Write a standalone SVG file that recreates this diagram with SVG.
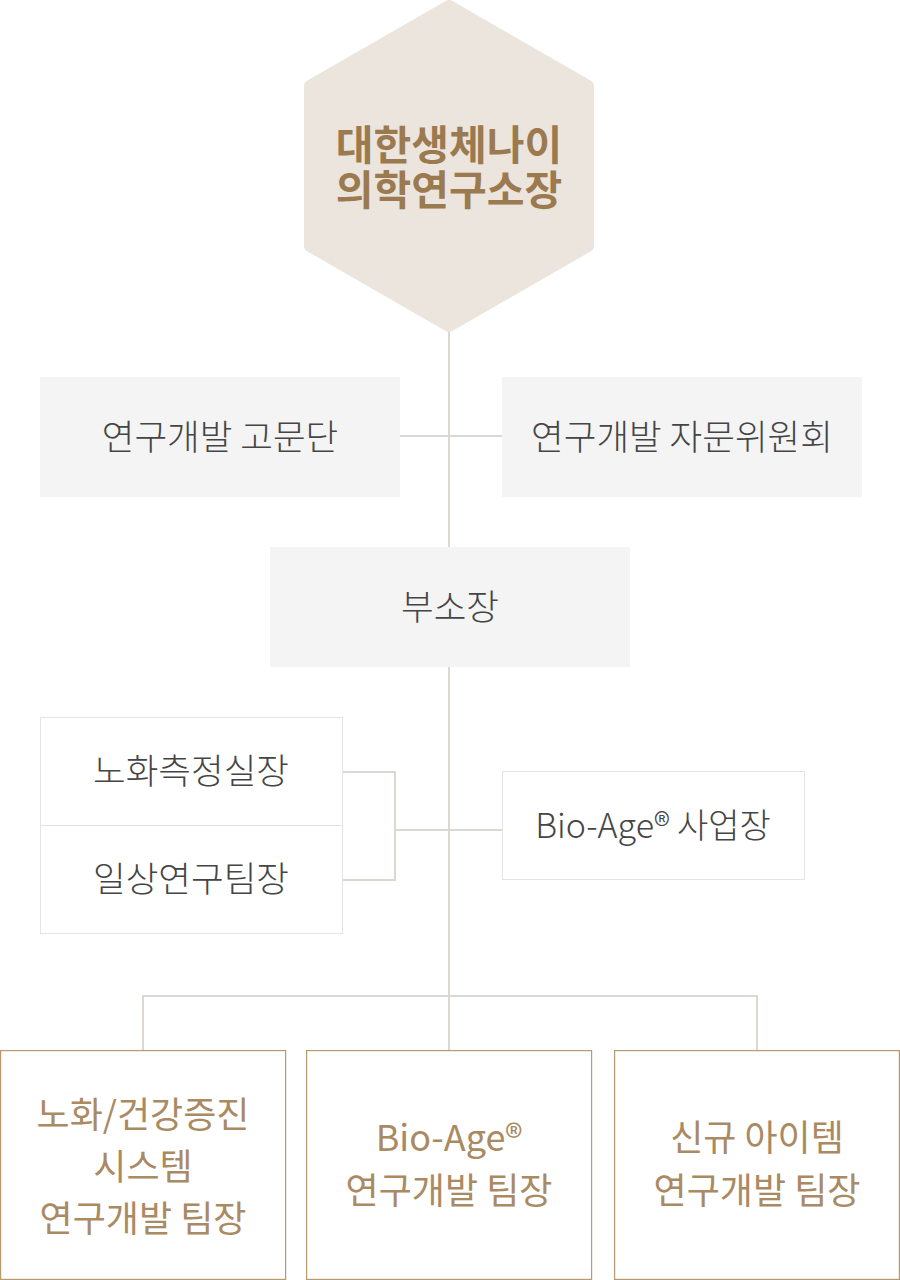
<svg xmlns="http://www.w3.org/2000/svg" width="900" height="1280" viewBox="0 0 900 1280">
<style>
.hex{fill:#ebe5de;stroke:#ebe5de;stroke-width:12;stroke-linejoin:round}
.gray{fill:#f4f4f4}
.white{fill:#ffffff;stroke:#e4e4e4;stroke-width:1}
.gold{fill:#ffffff;stroke:#b89a70;stroke-width:1.2}
.conn{fill:none;stroke:#ddd7d1;stroke-width:2}
.t{font-family:"Noto Sans CJK KR","Noto Sans",sans-serif;text-anchor:middle}
.ttl{font-size:41px;font-weight:700;fill:#9c7a50}
.dark{font-size:35.5px;font-weight:300;fill:#454545}
.br{font-size:36px;font-weight:400;fill:#a98a62}
</style>
<rect width="900" height="1280" fill="#ffffff"/>
<g id="connectors">
<line class="conn" x1="449" y1="320" x2="449" y2="1050"/>
<line class="conn" x1="400" y1="436" x2="502" y2="436"/>
<polyline class="conn" points="343,772 395,772 395,880 343,880"/>
<line class="conn" x1="395" y1="830" x2="502" y2="830"/>
<polyline class="conn" points="143,1050 143,996 757,996 757,1050"/>
</g>
<g id="director">
<polygon class="hex" points="449,6 588,86 588,246 449,326 310,246 310,86"/>
<text class="t ttl" x="449" y="160">대한생체나이</text>
<text class="t ttl" x="449" y="205">의학연구소장</text>
</g>
<g id="advisory">
<rect class="gray" x="40" y="377" width="360" height="120"/>
<text class="t dark" x="220" y="450">연구개발 고문단</text>
</g>
<g id="committee">
<rect class="gray" x="502" y="377" width="360" height="120"/>
<text class="t dark" x="682" y="450">연구개발 자문위원회</text>
</g>
<g id="deputy">
<rect class="gray" x="270" y="547" width="360" height="120"/>
<text class="t dark" x="450" y="620">부소장</text>
</g>
<g id="aging-lab">
<rect class="white" x="40.5" y="717.5" width="302" height="108"/>
<text class="t dark" x="191" y="784">노화측정실장</text>
</g>
<g id="daily-team">
<rect class="white" x="40.5" y="825.5" width="302" height="108"/>
<text class="t dark" x="191" y="892">일상연구팀장</text>
</g>
<g id="bioage-biz">
<rect class="white" x="502.5" y="771.5" width="302" height="108"/>
<text class="t dark" x="653" y="838" style="font-size:34px">Bio-Age® 사업장</text>
</g>
<g id="team1">
<rect class="gold" x="0.6" y="1050.6" width="285" height="228.8"/>
<text class="t br" x="143" y="1128">노화/건강증진</text>
<text class="t br" x="143" y="1180">시스템</text>
<text class="t br" x="143" y="1232">연구개발 팀장</text>
</g>
<g id="team2">
<rect class="gold" x="306.6" y="1050.6" width="285" height="228.8"/>
<text class="t br" x="449" y="1151">Bio-Age®</text>
<text class="t br" x="449" y="1204">연구개발 팀장</text>
</g>
<g id="team3">
<rect class="gold" x="614.6" y="1050.6" width="284.8" height="228.8"/>
<text class="t br" x="757" y="1151">신규 아이템</text>
<text class="t br" x="757" y="1204">연구개발 팀장</text>
</g>
</svg>
